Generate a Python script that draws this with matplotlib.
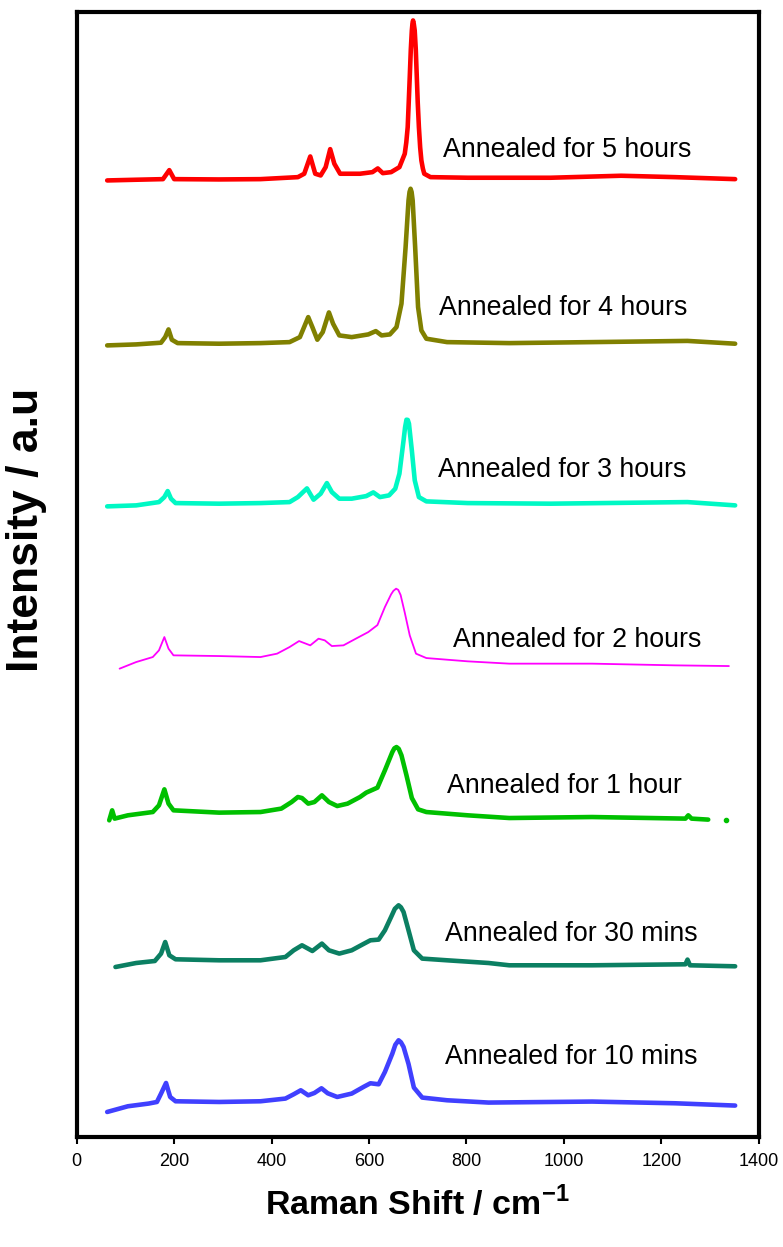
import matplotlib
matplotlib.use("Agg")
import matplotlib.pyplot as plt

plt.rcParams['font.family'] = ['Liberation Sans', 'DejaVu Sans']
plt.rcParams['mathtext.fontset'] = 'custom'
plt.rcParams['mathtext.bf'] = 'Liberation Sans:bold'

# Raman spectra, stacked (a.u.)
x_5h = [62.5, 122, 177, 190, 200, 292, 377, 454, 467, 479.4, 489.6, 500.7, 511, 520.3, 528.8, 540.7, 581.5,
        607, 618, 628.3, 645.3, 662.4, 673.4, 676.5, 679.4, 681.5, 683.6, 685.8, 687.9, 689.2, 690.4, 691.8,
        693.8, 696, 698.1, 700, 702.4, 705, 707.5, 710.5, 713.4, 726.2, 802.8, 973, 1117.6, 1228, 1351.6]
y_5h = [957.0, 957.7, 958.3, 967.3, 958.3, 958.0, 958.3, 960.3, 963.7, 981.0, 963.7, 962.0, 970.3, 988.3, 973.7,
        963.7, 963.7, 965.3, 969.0, 964.3, 965.3, 970.3, 983.7, 995, 1010.3, 1035, 1060.3, 1088, 1107, 1114,
        1117, 1114, 1107, 1088, 1060.3, 1035, 1010.3, 990, 977, 969, 963.7, 960.3, 959.7, 959.7, 961.7, 960.3,
        958.3]

x_4h = [62.5, 122, 173, 181.6, 188.4, 195.2, 207.1, 292.2, 377.3, 436.9, 458.1, 466.7, 475.2, 483.7, 493.9, 505,
        517.7, 526.2, 539, 564.5, 598.5, 613.9, 625.8, 642.8, 656.4, 666.6, 675.1, 681.1, 683.2, 685.3, 687.4,
        689.6, 694.7, 700.7, 707.5, 717.7, 760.2, 887.9, 1058, 1253.7, 1351.6]
y_4h = [792, 793, 794.7, 800.3, 808, 797.7, 794.3, 793.7, 794.3, 795.3, 800.3, 810.3, 820.3, 810.3, 797.7, 805.3,
        825, 813.7, 802, 800.3, 803, 806.3, 802, 803, 810.3, 833.7, 890.3, 937, 945.5, 948.7, 945.5, 937, 890.3,
        830.3, 807, 798.7, 795.3, 794.3, 795.3, 796.5, 793.7]

x_3h = [62.5, 122, 168.8, 179.9, 186.7, 193.5, 202.9, 292.2, 377.3, 436.9, 453.9, 472.6, 486.2, 500.7, 513.5,
        523.7, 539, 564.5, 594.3, 608.8, 622.4, 641.1, 653.9, 662.4, 670.9, 674, 676.9, 679.5, 682, 687.9,
        693.9, 702.4, 717.7, 802.8, 973, 1253.7, 1351.6]
y_3h = [631, 632, 635.3, 640.3, 646.3, 638.7, 634.3, 633.7, 634.3, 635.3, 640.3, 649, 637.7, 643.7, 654.3, 645.3,
        638.7, 638.7, 641.3, 645, 640.3, 642, 648.7, 663.7, 697, 710, 717.7, 717.5, 713.7, 687, 657, 640.3, 636,
        634.3, 633.7, 635.3, 632]

x_2h = [88, 122, 156.1, 168.8, 179.9, 188.4, 198.6, 292.2, 377.3, 411.3, 436.9, 456.4, 479.4, 496.4, 509.2,
        523.7, 547.5, 573, 598.5, 617.3, 632.6, 645.3, 650, 655.6, 660, 664.9, 673.4, 683.6, 696.4, 717.7, 802.8,
        887.9, 1058, 1228.2, 1338.8]
y_2h = [468.7, 475.3, 480.3, 487, 500.3, 488.7, 482, 481.3, 480.3, 483.7, 490.3, 496.3, 492, 498.7, 497, 491.3,
        492, 498.7, 505.3, 512.3, 530.3, 543, 546.5, 548.7, 547.5, 542.3, 524.7, 502, 483.7, 479.3, 476, 473.7,
        473.7, 472, 471.3]

x_1h = [66.7, 72.7, 77.8, 105, 156.1, 168.8, 179.9, 188.4, 198.6, 292.2, 377.3, 419.9, 441.1, 453.9, 462.4,
        475.2, 487.9, 503.3, 517.7, 534.7, 556, 581.5, 594.3, 617.3, 632.6, 647.9, 652, 656.4, 661, 666.6, 676.9,
        687.9, 700.7, 717.7, 802.8, 887.9, 1058, 1249.5, 1255.4, 1262.2, 1296.3]
y_1h = [317, 327, 318.7, 322, 325.3, 332, 348, 333.7, 327, 324.7, 325.3, 328.7, 335.3, 340.3, 339.3, 333.7,
        335.3, 342, 335.3, 331.3, 333.7, 340.3, 344.7, 349.7, 367, 385.3, 389, 390.3, 388.5, 382, 362, 339.3, 328,
        325.3, 322, 319.3, 320.3, 318.7, 322, 318.7, 317.7]
x_1h_dot = [1332]
y_1h_dot = [317.7]

x_30m = [79.5, 122, 160.3, 173.1, 181.6, 190.1, 202.9, 292.2, 377.3, 428.4, 445.4, 462.4, 483.7, 503.3, 517.7,
         539, 564.5, 590, 602.8, 619.8, 632.6, 645.3, 653, 660.7, 665.5, 670.9, 681.1, 692.1, 709.2, 760.2, 845.3,
         887.9, 1058, 1249.5, 1253.8, 1258.9, 1351.6]
y_30m = [170.3, 174.3, 176.3, 183.7, 195.3, 182, 178, 177, 177, 180.3, 187, 192, 186.3, 193.7, 187, 183.7, 187,
         193.7, 197, 197.7, 207, 220.3, 228.5, 232, 230, 225.3, 207, 187, 178.7, 177, 174.3, 172, 172, 173, 177.7,
         172, 171]

x_10m = [62.5, 105, 147.6, 164.6, 173.1, 183.3, 191.8, 202.9, 292.2, 377.3, 428.4, 445.4, 459.9, 475.2, 487.9,
         502.4, 515.2, 534.7, 564.5, 590, 602.8, 619.8, 632.6, 647.9, 654, 660.7, 665.5, 670.9, 681.1, 692.1,
         709.2, 760.2, 845.3, 973, 1058, 1228.2, 1351.6]
y_10m = [25.3, 31, 33.7, 35.3, 43.7, 54.3, 40.3, 36, 35.3, 36, 38.7, 43, 47, 42, 44.3, 49, 44, 40.3, 43.7, 50.7,
         54, 53, 65.3, 83.7, 92.5, 97, 95, 90.3, 73.3, 49.7, 39.7, 37, 34.7, 35.3, 35.7, 34, 31.7]

labels = ['Annealed for 5 hours', 'Annealed for 4 hours', 'Annealed for 3 hours', 'Annealed for 2 hours',
          'Annealed for 1 hour', 'Annealed for 30 mins', 'Annealed for 10 mins']
label_x = [751, 743, 741, 772, 760, 755, 755]
label_y = [987, 829, 667, 497, 351, 203, 80]
colors = ['#ff0000', '#808000', '#00f8c4', '#ff00ff', '#00c000', '#0b7f62', '#4040ff']

fig = plt.figure(figsize=(7.83, 12.47), dpi=100)
ax = fig.add_axes([0.098, 0.088, 0.871, 0.902])

spectra = [(x_5h, y_5h), (x_4h, y_4h), (x_3h, y_3h), (x_2h, y_2h), (x_1h, y_1h), (x_30m, y_30m), (x_10m, y_10m)]
for i, (xs, ys) in enumerate(spectra):
    lw = 1.3 if i == 3 else 3.3
    ax.plot(xs, ys, color=colors[i], lw=lw, solid_capstyle='round', solid_joinstyle='round')
    ax.text(label_x[i], label_y[i], labels[i], fontsize=19.3, va='center', ha='left')
ax.plot(x_1h_dot, y_1h_dot, 'o', color=colors[4], ms=3)

ax.set_xlim(0, 1400)
ax.set_ylim(0, 1125)
ax.set_xticks(range(0, 1401, 200))
ax.set_yticks([])
ax.tick_params(axis='x', direction='out', length=5, width=1.5, labelsize=13, pad=6)
for s in ax.spines.values():
    s.set_linewidth(3)

ax.set_xlabel('Raman Shift / cm$^{\\mathbf{-1}}$', fontsize=24.5, fontweight='bold', labelpad=12)
ax.set_ylabel('Intensity / a.u', fontsize=32, fontweight='bold')
ax.yaxis.set_label_coords(-0.044, 0.54)

fig.savefig('out.png', dpi=100)
